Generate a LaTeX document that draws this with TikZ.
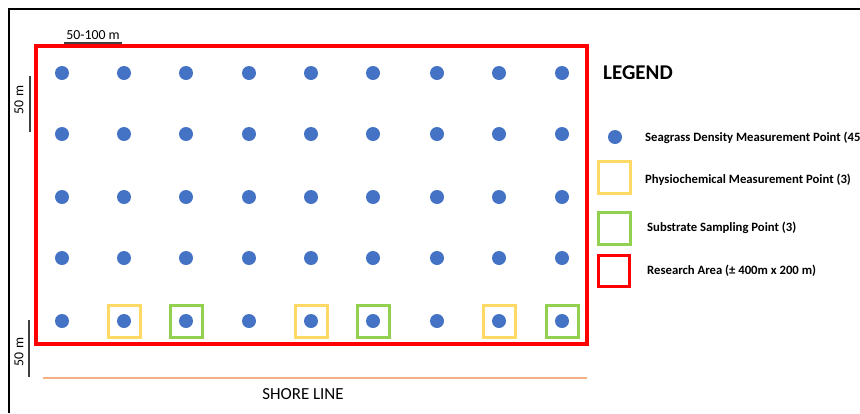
\documentclass[tikz,border=0pt]{standalone}
\usepackage{fontspec}
\setmainfont{Carlito}
\usetikzlibrary{positioning,calc}
\definecolor{ptblue}{HTML}{4472C4}
\definecolor{areared}{HTML}{FF0000}
\definecolor{physyellow}{HTML}{FFD966}
\definecolor{subgreen}{HTML}{92D050}
\definecolor{shoreorange}{HTML}{F4B183}
\tikzset{
  seagrasspt/.style={circle, fill=ptblue, draw=none, minimum size=14pt, inner sep=0pt},
  physiobox/.style={draw=physyellow, line width=3pt, minimum size=32pt, inner sep=0pt},
  substratebox/.style={draw=subgreen, line width=3pt, minimum size=32pt, inner sep=0pt},
  areabox/.style={draw=areared, line width=3.5pt, minimum size=31pt, inner sep=0pt},
  legendtxt/.style={font=\fontsize{12.7}{14}\selectfont\bfseries, anchor=west, inner sep=0pt},
  scaletxt/.style={font=\fontsize{13.8}{15}\selectfont, inner sep=0pt},
  scalebar/.style={line width=1.2pt, draw=black!75}
}

\begin{document}
\begin{tikzpicture}[x=1pt, y=-1pt]
  \useasboundingbox (0,0) rectangle (860,413);
  % frame
  \draw[line width=1.5pt] (9,413) -- (9,9) -- (860,9);
  % research area
  \draw[draw=areared, line width=3.5pt] (36,46) rectangle (587,344);
  % sampling grid
  \foreach \x [count=\c] in {62,124,186,249,311,373,437,499,562} {
    \foreach \y [count=\r] in {73,134,197,258,321} {
      \node[seagrasspt] (pt-\c-\r) at (\x,\y) {};
    }
  }
  \node[physiobox] (phys1) at (pt-2-5) {};
  \node[physiobox] (phys2) at (pt-5-5) {};
  \node[physiobox] (phys3) at (pt-8-5) {};
  \node[substratebox] (sub1) at (pt-3-5) {};
  \node[substratebox] (sub2) at (pt-6-5) {};
  \node[substratebox] (sub3) at (pt-9-5) {};

  % scale bars
  \coordinate (topbarL) at (64,43);
  \coordinate (topbarR) at (122,43);
  \draw[scalebar] (topbarL) -- (topbarR);
  \node[scaletxt, above=3pt of $(topbarL)!0.5!(topbarR)$] (toplabel) {50-100 m};
  \coordinate (leftbarT) at (30,76);
  \coordinate (leftbarB) at (30,132);
  \draw[scalebar] (leftbarT) -- (leftbarB);
  \node[scaletxt, rotate=90] (leftlabel) at (19,100) {50 m};
  \coordinate (lowbarT) at (29,320);
  \coordinate (lowbarB) at (29,377);
  \draw[scalebar] (lowbarT) -- (lowbarB);
  \node[scaletxt, rotate=90] (lowlabel) at (19,352) {50 m};

  % shore line
  \coordinate (shoreL) at (43,378);
  \coordinate (shoreR) at (587,378);
  \draw[draw=shoreorange, line width=2.5pt] (shoreL) -- (shoreR);
  \node[font=\fontsize{16.9}{18}\selectfont, inner sep=0pt] (shore) at (303,394) {SHORE LINE};

  % legend
  \node[font=\fontsize{21}{23}\selectfont\bfseries, anchor=west, inner sep=0pt] (legend) at (603,73) {LEGEND};
  \node[seagrasspt] (leg1) at (615,137) {};
  \node[physiobox] (leg2) at (614,177) {};
  \node[substratebox] (leg3) at (614,228) {};
  \node[areabox] (leg4) at (614,271) {};
  \node[legendtxt] (leg1txt) at (645,138) {Seagrass Density Measurement Point (45)};
  \node[legendtxt] (leg2txt) at (645,180) {Physiochemical Measurement Point (3)};
  \node[legendtxt] (leg3txt) at (647,228) {Substrate Sampling Point (3)};
  \node[legendtxt] (leg4txt) at (647,271) {Research Area (± 400m x 200 m)};
\end{tikzpicture}
\end{document}
